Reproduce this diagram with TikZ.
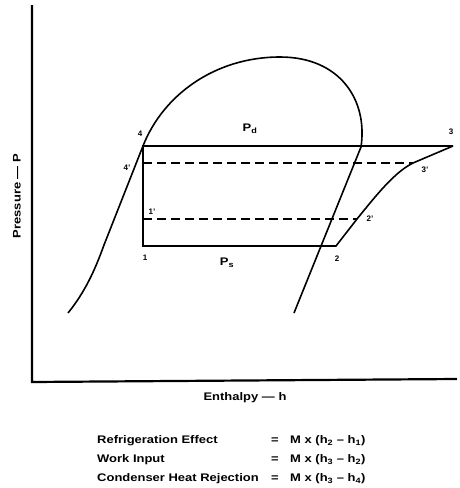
\documentclass[tikz,border=0pt]{standalone}
\usepackage{fontspec}
\setmainfont{Liberation Sans}
\newfontfamily\widesans[FakeStretch=1.18]{Liberation Sans}
\usetikzlibrary{positioning}

\begin{document}
\begin{tikzpicture}[x=1pt,y=-1pt,
    axis/.style={line width=2.2pt},
    cyc/.style={line width=1.6pt,line join=miter},
    sat/.style={line width=1.6pt},
    dsh/.style={line width=1.6pt,dash pattern=on 9pt off 5pt},
    pt/.style={font=\fontsize{8}{9}\selectfont\bfseries,inner sep=1pt},
    lbl/.style={font=\widesans\fontsize{11}{12}\selectfont\bfseries,inner sep=1pt},
    frm/.style={font=\widesans\fontsize{11}{12}\selectfont\bfseries,inner sep=1pt,anchor=west}
  ]
    \useasboundingbox (0,0) rectangle (459,488);
    % axes
    \coordinate (O) at (32,382);
    \coordinate (T) at (32,5);
    \coordinate (R) at (457,379);
    \draw[axis] (T) -- (O) -- (R);
    \node[lbl,rotate=90] (yl) at (17,196) {Pressure — P};
    \node[lbl] (xl) at (245,398) {Enthalpy — h};
    % cycle points
    \coordinate (p4)  at (143,146);
    \coordinate (p4p) at (143,163);
    \coordinate (p1p) at (143,219);
    \coordinate (p1)  at (143,246);
    \coordinate (p2)  at (336,246);
    \coordinate (p2p) at (357,219);
    \coordinate (p3p) at (413,163);
    \coordinate (p3)  at (453,146);
    % saturation dome
    \draw[sat] (68,313) .. controls (85,292) and (95,270) .. (104,245) -- (p4)
      .. controls (163,95) and (215,57) .. (280,57)
      .. controls (340,57) and (368,100) .. (361,147) -- (294,313);
    % cycle
    \draw[cyc] (p3) -- (p4) -- (p1) -- (p2) -- (p2p)
      .. controls (378,193) and (395,172) .. (p3p) -- (p3);
    \draw[dsh] (p4p) -- (p3p);
    \draw[dsh] (p1p) -- (p2p);
    % point labels
    \node[pt] (l4)  at (140,134) {4};
    \node[pt] (l4p) at (127,168) {4'};
    \node[pt] (l1p) at (152,212) {1'};
    \node[pt] (l1)  at (145,258) {1};
    \node[pt] (l2)  at (337,259) {2};
    \node[pt] (l2p) at (370,219) {2'};
    \node[pt] (l3p) at (425,170) {3'};
    \node[pt] (l3)  at (451,132) {3};
    \node[lbl] (pd) at (250,129) {P\textsubscript{d}};
    \node[lbl] (ps) at (227,263) {P\textsubscript{s}};
    % formulas
    \node[frm] (f1) at (96,441) {Refrigeration Effect};
    \node[frm] (f2) at (96,460) {Work Input};
    \node[frm] (f3) at (96,479) {Condenser Heat Rejection};
    \foreach \n/\a/\b in {1/2/1,2/3/2,3/3/4}{
      \node[frm] (e\n) at (270,{422+19*\n}) {=};
      \node[frm] (r\n) at (289,{422+19*\n}) {M x (h\textsubscript{\a} – h\textsubscript{\b})};
    }
  \end{tikzpicture}
\end{document}
